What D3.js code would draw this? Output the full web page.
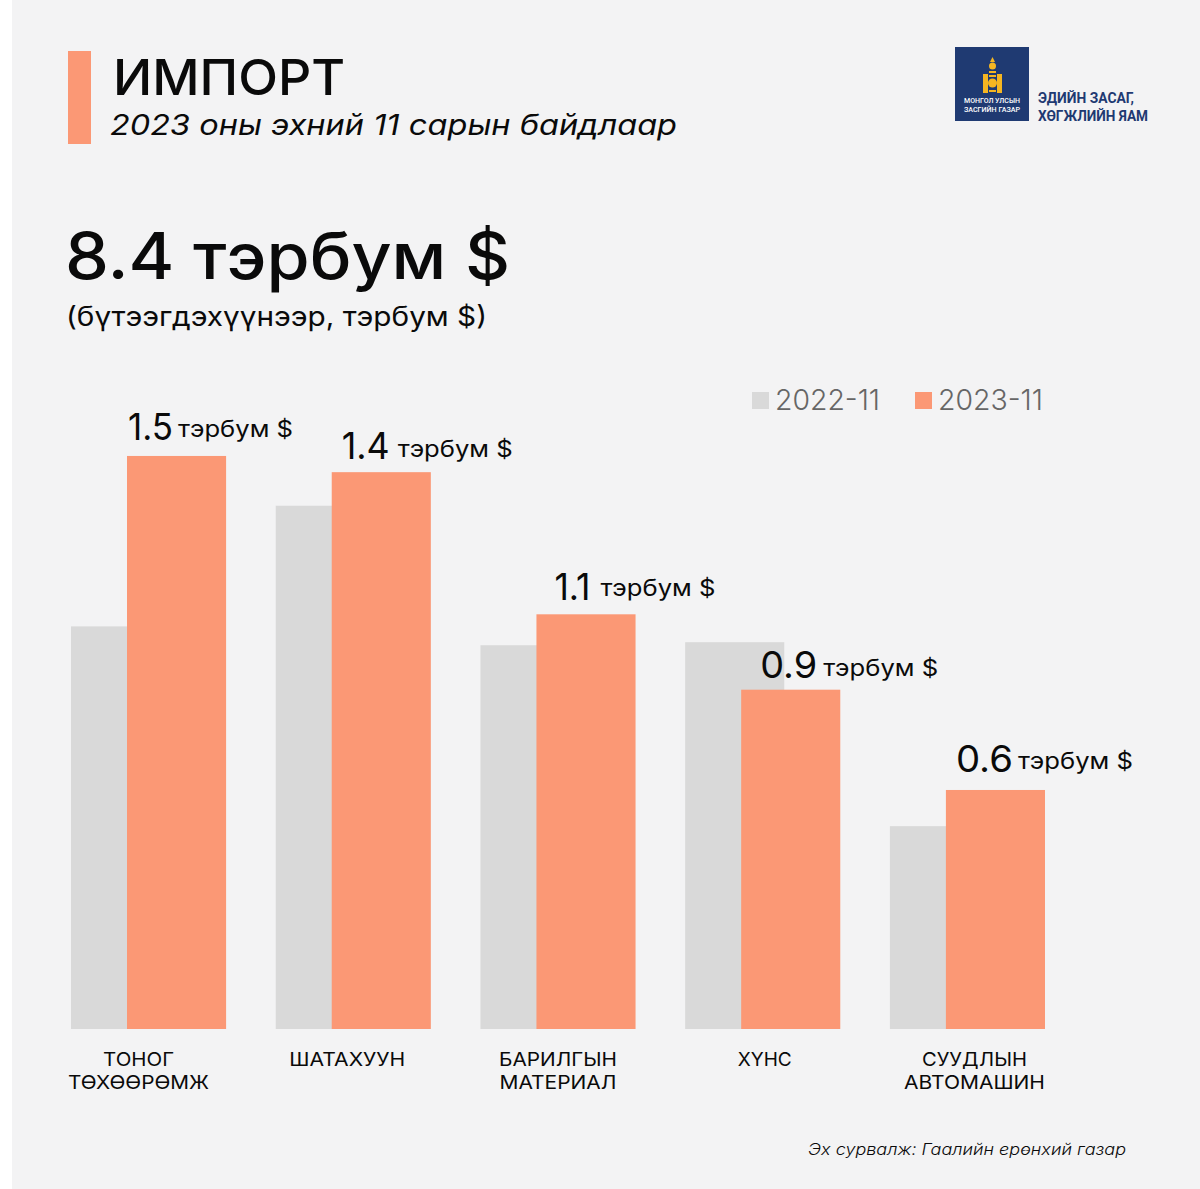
<!DOCTYPE html>
<html>
<head>
<meta charset="utf-8">
<script src="https://cdn.jsdelivr.net/npm/d3@7"></script>
<style>
  html, body { margin: 0; padding: 0; background: #fff; }
  svg { display: block; }
  text { font-family: Inter, "Noto Sans", sans-serif; fill: #0a0a0a; text-anchor: start; }
</style>
</head>
<body>
<svg id="chart" width="1200" height="1189"></svg>
<script>
// data
var categories = ['ТОНОГ ТӨХӨӨРӨМЖ', 'ШАТАХУУН', 'БАРИЛГЫН МАТЕРИАЛ', 'ХҮНС', 'СУУДЛЫН АВТОМАШИН'];
var categoryLines = [['ТОНОГ', 'ТӨХӨӨРӨМЖ'], ['ШАТАХУУН'], ['БАРИЛГЫН', 'МАТЕРИАЛ'], ['ХҮНС'], ['СУУДЛЫН', 'АВТОМАШИН']];
var seriesNames = ['2022-11', '2023-11'];
var values2022 = [1.068, 1.388, 1.018, 1.026, 0.538];
var values2023 = [1.52, 1.477, 1.10, 0.90, 0.634];
var valueLabels = ['1.5', '1.4', '1.1', '0.9', '0.6'];
var unitLabel = 'тэрбум $';

// layout
var grey = '#d9d9d9', orange = '#fb9875', paper = '#f3f3f4', navy = '#1f3a72';
var baseline = 1029;
var labelDx = [1, 10, 18, 19, 10];      // value label start, from left of orange bar
var labelDy = [16, 13, 14, 12, 18];     // value label baseline above bar top
var labelW = [45, 48, 36, 57, 57];      // drawn width of value labels
var unitGap = [5, 8, 10, 6, 5];         // gap between value and unit
var unitDy = [3, 2, 4, 2, 3];           // unit baseline above value baseline
var catDx = [-10, -6, 0, 2, 7];         // category text, from band centre
var catW = [[71, 141], [116], [118, 117], [54], [105, 141]];

var svg = d3.select('#chart');

function txt(parent, s, x, y, size, width, opts) {
  opts = opts || {};
  var t = parent.append('text').attr('x', x).attr('y', y).attr('font-size', size)
    .attr('font-weight', opts.weight || 400).text(s);
  if (width) t.attr('textLength', width).attr('lengthAdjust', 'spacingAndGlyphs');
  if (opts.italic) t.attr('font-style', 'italic');
  if (opts.fill) t.style('fill', opts.fill);
  if (opts.family) t.style('font-family', opts.family);
  return t;
}

// background
svg.append('rect').attr('x', 12).attr('y', 0).attr('width', 1188).attr('height', 1189).attr('fill', paper);

// header
svg.append('rect').attr('x', 68).attr('y', 51).attr('width', 23).attr('height', 93).attr('fill', orange);
txt(svg, 'ИМПОРТ', 113, 95, 50, 232, {weight: 500});
txt(svg, '2023 оны эхний 11 сарын байдлаар', 110, 135, 28, 567, {italic: true, weight: 400});
txt(svg, '8.4 тэрбум $', 65, 279, 64, 445, {weight: 500});
txt(svg, '(бүтээгдэхүүнээр, тэрбум $)', 66, 326, 27, 421);

// logo
var logo = svg.append('g');
logo.append('rect').attr('x', 955).attr('y', 47).attr('width', 74).attr('height', 74).attr('fill', navy);
var gold = '#f5b622';
logo.append('rect').attr('x', 983).attr('y', 74).attr('width', 5).attr('height', 19).attr('fill', gold);
logo.append('rect').attr('x', 997).attr('y', 74).attr('width', 5).attr('height', 19).attr('fill', gold);
logo.append('circle').attr('cx', 992.5).attr('cy', 83).attr('r', 4.5).attr('fill', gold);
logo.append('circle').attr('cx', 992.5).attr('cy', 66).attr('r', 3.5).attr('fill', gold);
logo.append('path').attr('d', 'M992.5 57 L995 62 L990 62 Z').attr('fill', gold);
logo.append('rect').attr('x', 989).attr('y', 71).attr('width', 7).attr('height', 2).attr('fill', gold);
logo.append('rect').attr('x', 989).attr('y', 75).attr('width', 7).attr('height', 2).attr('fill', gold);
logo.append('rect').attr('x', 989).attr('y', 90).attr('width', 7).attr('height', 2).attr('fill', gold);
txt(logo, 'МОНГОЛ УЛСЫН', 964, 103, 7.5, 56, {fill: '#fff', weight: 500, family: 'Roboto'});
txt(logo, 'ЗАСГИЙН ГАЗАР', 964, 112, 7.5, 56, {fill: '#fff', weight: 500, family: 'Roboto'});
txt(logo, 'ЭДИЙН ЗАСАГ,', 1038, 103, 14, 96, {fill: navy, weight: 700, family: 'Roboto'});
txt(logo, 'ХӨГЖЛИЙН ЯАМ', 1038, 121, 14, 110, {fill: navy, weight: 700, family: 'Roboto'});

// legend
var legendX = [752, 915];
seriesNames.forEach(function(name, i) {
  svg.append('rect').attr('x', legendX[i]).attr('y', 392).attr('width', 17).attr('height', 17)
    .attr('fill', i === 0 ? grey : orange);
  txt(svg, name, legendX[i] + 23, 410, 29, 105, {fill: '#666', weight: 300});
});

// scales
var x = d3.scaleBand().domain(categories).range([71, 1045]).paddingInner(0.2424);
var overlap = 56;
var barW = x.bandwidth() - overlap;
var xSeries = d3.scalePoint().domain(seriesNames).range([0, overlap]);
var y = d3.scaleLinear().domain([0, 1.6]).range([baseline, baseline - 603.2]);

// bars, grey first so orange overlaps it
[values2022, values2023].forEach(function(vals, s) {
  svg.append('g').selectAll('rect').data(vals).join('rect')
    .attr('x', function(d, i) { return x(categories[i]) + xSeries(seriesNames[s]); })
    .attr('y', function(d) { return y(d); })
    .attr('width', barW)
    .attr('height', function(d) { return baseline - y(d); })
    .attr('fill', s === 0 ? grey : orange);
});

// value labels
values2023.forEach(function(v, i) {
  var left = x(categories[i]) + xSeries(seriesNames[1]) + labelDx[i];
  var base = y(v) - labelDy[i];
  txt(svg, valueLabels[i], left, base, 37, labelW[i], {weight: 400});
  txt(svg, unitLabel, left + labelW[i] + unitGap[i], base - unitDy[i], 23, 115, {weight: 400});
});

// category axis
var axis = svg.append('g').attr('transform', 'translate(0,' + baseline + ')')
  .call(d3.axisBottom(x).tickSize(0).tickFormat(''));
axis.select('.domain').remove();
axis.selectAll('.tick text').remove();
axis.selectAll('.tick').each(function(d, i) {
  var tick = d3.select(this);
  categoryLines[i].forEach(function(line, j) {
    txt(tick, line, catDx[i] - catW[i][j] / 2, 37 + j * 23, 19, catW[i][j]);
  });
});

// source
txt(svg, 'Эх сурвалж: Гаалийн ерөнхий газар', 808, 1155, 16, 318, {italic: true, weight: 300});
</script>
</body>
</html>
